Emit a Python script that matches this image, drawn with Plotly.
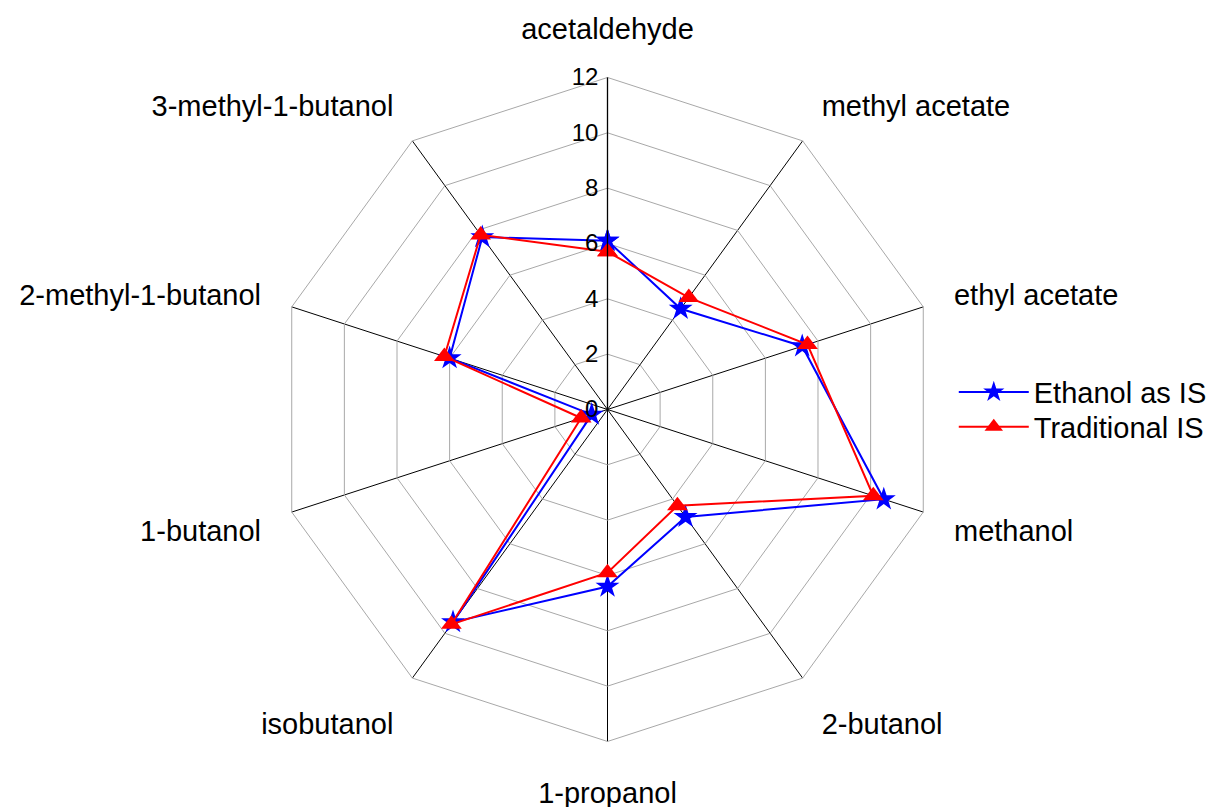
import plotly.graph_objects as go

# Compounds around the radar, clockwise from the top
compounds = [
    "acetaldehyde", "methyl acetate", "ethyl acetate", "methanol", "2-butanol",
    "1-propanol", "isobutanol", "1-butanol", "2-methyl-1-butanol", "3-methyl-1-butanol",
]

# Values per compound for each internal-standard method
ethanol_is = [6.1, 4.5, 7.4, 10.5, 4.8, 6.4, 9.5, 0.6, 6.0, 7.7]
traditional_is = [5.7, 5.0, 7.6, 10.1, 4.3, 5.9, 9.6, 1.0, 6.2, 7.8]

radial_ticks = [0, 2, 4, 6, 8, 10, 12]

FONT = "Arial, Liberation Sans, sans-serif"


def closed(values):
    return values + values[:1]


fig = go.Figure()

fig.add_trace(go.Scatterpolar(
    r=closed(ethanol_is),
    theta=closed(compounds),
    mode="lines+markers",
    name="Ethanol as IS",
    legend="legend",
    showlegend=True,
    line=dict(color="#0000ff", width=2),
    marker=dict(symbol="star", size=18, color="#0000ff"),
))

fig.add_trace(go.Scatterpolar(
    r=closed(traditional_is),
    theta=closed(compounds),
    mode="lines+markers",
    name="Traditional IS",
    legend="legend2",
    showlegend=True,
    line=dict(color="#ff0000", width=2),
    marker=dict(symbol="triangle-up", size=18, color="#ff0000"),
))

legend_style = dict(
    x=0.785,
    xanchor="left",
    yanchor="middle",
    bgcolor="rgba(0,0,0,0)",
    font=dict(family=FONT, size=29, color="black"),
    itemwidth=70,
    visible=True,
)

fig.update_layout(
    width=1215,
    height=807,
    showlegend=True,
    paper_bgcolor="white",
    plot_bgcolor="white",
    margin=dict(l=0, r=0, t=0, b=0),
    font=dict(family=FONT, size=29, color="black"),
    polar=dict(
        domain=dict(x=[0.2267, 0.7733], y=[0.0812, 0.9040]),
        bgcolor="white",
        gridshape="linear",
        angularaxis=dict(
            direction="clockwise",
            rotation=90,
            categoryorder="array",
            categoryarray=compounds,
            showline=True,
            linecolor="#a8a8a8",
            linewidth=1,
            showgrid=True,
            gridcolor="black",
            gridwidth=1.3,
            ticks="outside",
            ticklen=26,
            tickcolor="rgba(0,0,0,0)",
            tickfont=dict(family=FONT, size=29, color="black"),
        ),
        radialaxis=dict(
            range=[0, 12],
            angle=90,
            side="counterclockwise",
            tickvals=radial_ticks,
            ticktext=[str(v) for v in radial_ticks],
            tickangle=90,
            showline=True,
            linecolor="black",
            linewidth=1.3,
            showgrid=True,
            gridcolor="#a8a8a8",
            gridwidth=1,
            ticks="",
            tickfont=dict(family=FONT, size=24, color="black"),
        ),
    ),
    legend=dict(y=0.5142, **legend_style),
    legend2=dict(y=0.4709, **legend_style),
)

fig.write_html("out.html")
